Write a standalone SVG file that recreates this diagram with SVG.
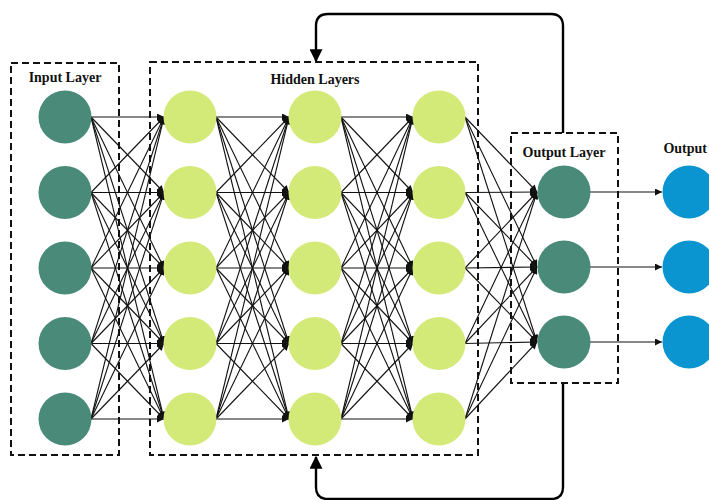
<svg xmlns="http://www.w3.org/2000/svg" width="709" height="500" viewBox="0 0 709 500">
<style>
.box{fill:none;stroke:#111;stroke-width:2;stroke-dasharray:7,4}
.lbl{font-family:"Liberation Serif","Times New Roman",serif;font-weight:bold;font-size:14px;fill:#111}
.in{fill:#4a8a78}
.hid{fill:#d3ea78}
.out{fill:#0a95d0}
.c{stroke:#111;stroke-width:1.1;fill:none;marker-end:url(#ah)}
.loop{stroke:#000;stroke-width:2.4;fill:none;marker-end:url(#big)}
</style>
<defs>
<marker id="ah" viewBox="0 0 10 10" refX="10" refY="5" markerWidth="8" markerHeight="7" markerUnits="userSpaceOnUse" orient="auto"><path d="M0,0L10,5L0,10z" fill="#111"/></marker>
<marker id="big" viewBox="0 0 10 10" refX="9" refY="5" markerWidth="13" markerHeight="13" markerUnits="userSpaceOnUse" orient="auto"><path d="M0,0L10,5L0,10z" fill="#000"/></marker>
</defs>
<rect x="0" y="0" width="709" height="500" fill="#fff"/>
<g id="connectors">
<g id="c-in-h1">
<path class="c" d="M91,117L164,117"/><path class="c" d="M91,117L164,192.5"/><path class="c" d="M91,117L164,268"/><path class="c" d="M91,117L164,343.5"/><path class="c" d="M91,117L164,419"/>
<path class="c" d="M91,192.5L164,117"/><path class="c" d="M91,192.5L164,192.5"/><path class="c" d="M91,192.5L164,268"/><path class="c" d="M91,192.5L164,343.5"/><path class="c" d="M91,192.5L164,419"/>
<path class="c" d="M91,268L164,117"/><path class="c" d="M91,268L164,192.5"/><path class="c" d="M91,268L164,268"/><path class="c" d="M91,268L164,343.5"/><path class="c" d="M91,268L164,419"/>
<path class="c" d="M91,343.5L164,117"/><path class="c" d="M91,343.5L164,192.5"/><path class="c" d="M91,343.5L164,268"/><path class="c" d="M91,343.5L164,343.5"/><path class="c" d="M91,343.5L164,419"/>
<path class="c" d="M91,419L164,117"/><path class="c" d="M91,419L164,192.5"/><path class="c" d="M91,419L164,268"/><path class="c" d="M91,419L164,343.5"/><path class="c" d="M91,419L164,419"/>
</g>
<g id="c-h1-h2">
<path class="c" d="M216,117L289,117"/><path class="c" d="M216,117L289,192.5"/><path class="c" d="M216,117L289,268"/><path class="c" d="M216,117L289,343.5"/><path class="c" d="M216,117L289,419"/>
<path class="c" d="M216,192.5L289,117"/><path class="c" d="M216,192.5L289,192.5"/><path class="c" d="M216,192.5L289,268"/><path class="c" d="M216,192.5L289,343.5"/><path class="c" d="M216,192.5L289,419"/>
<path class="c" d="M216,268L289,117"/><path class="c" d="M216,268L289,192.5"/><path class="c" d="M216,268L289,268"/><path class="c" d="M216,268L289,343.5"/><path class="c" d="M216,268L289,419"/>
<path class="c" d="M216,343.5L289,117"/><path class="c" d="M216,343.5L289,192.5"/><path class="c" d="M216,343.5L289,268"/><path class="c" d="M216,343.5L289,343.5"/><path class="c" d="M216,343.5L289,419"/>
<path class="c" d="M216,419L289,117"/><path class="c" d="M216,419L289,192.5"/><path class="c" d="M216,419L289,268"/><path class="c" d="M216,419L289,343.5"/><path class="c" d="M216,419L289,419"/>
</g>
<g id="c-h2-h3">
<path class="c" d="M341,117L413,117"/><path class="c" d="M341,117L413,192.5"/><path class="c" d="M341,117L413,268"/><path class="c" d="M341,117L413,343.5"/><path class="c" d="M341,117L413,419"/>
<path class="c" d="M341,192.5L413,117"/><path class="c" d="M341,192.5L413,192.5"/><path class="c" d="M341,192.5L413,268"/><path class="c" d="M341,192.5L413,343.5"/><path class="c" d="M341,192.5L413,419"/>
<path class="c" d="M341,268L413,117"/><path class="c" d="M341,268L413,192.5"/><path class="c" d="M341,268L413,268"/><path class="c" d="M341,268L413,343.5"/><path class="c" d="M341,268L413,419"/>
<path class="c" d="M341,343.5L413,117"/><path class="c" d="M341,343.5L413,192.5"/><path class="c" d="M341,343.5L413,268"/><path class="c" d="M341,343.5L413,343.5"/><path class="c" d="M341,343.5L413,419"/>
<path class="c" d="M341,419L413,117"/><path class="c" d="M341,419L413,192.5"/><path class="c" d="M341,419L413,268"/><path class="c" d="M341,419L413,343.5"/><path class="c" d="M341,419L413,419"/>
</g>
<g id="c-h3-out">
<path class="c" d="M465,117L537,192"/><path class="c" d="M465,117L537,267"/><path class="c" d="M465,117L537,342"/>
<path class="c" d="M465,192.5L537,192"/><path class="c" d="M465,192.5L537,267"/><path class="c" d="M465,192.5L537,342"/>
<path class="c" d="M465,268L537,192"/><path class="c" d="M465,268L537,267"/><path class="c" d="M465,268L537,342"/>
<path class="c" d="M465,343.5L537,192"/><path class="c" d="M465,343.5L537,267"/><path class="c" d="M465,343.5L537,342"/>
<path class="c" d="M465,419L537,192"/><path class="c" d="M465,419L537,267"/><path class="c" d="M465,419L537,342"/>
</g>
<g id="c-out-final">
<path class="c" d="M590,192L662,192"/><path class="c" d="M590,267L662,267"/><path class="c" d="M590,342L662,342"/>
</g>
<g id="loops">
<path class="loop" d="M563,133L563,26Q563,14 551,14L328,14Q316,14 316,26L316,61"/>
<path class="loop" d="M563,383L563,487Q563,499 551,499L328,499Q316,499 316,487L316,457"/>
</g>
</g>
<g id="input-layer">
<rect class="box" x="11" y="63" width="108" height="392"/>
<text class="lbl" x="65" y="82" text-anchor="middle">Input Layer</text>
<circle class="in" cx="65" cy="117" r="26.5"/><circle class="in" cx="65" cy="192.5" r="26.5"/><circle class="in" cx="65" cy="268" r="26.5"/><circle class="in" cx="65" cy="343.5" r="26.5"/><circle class="in" cx="65" cy="419" r="26.5"/>
</g>
<g id="hidden-layers">
<rect class="box" x="150" y="62" width="328" height="393"/>
<text class="lbl" x="315" y="84" text-anchor="middle">Hidden Layers</text>
<circle class="hid" cx="190" cy="117" r="26.5"/><circle class="hid" cx="190" cy="192.5" r="26.5"/><circle class="hid" cx="190" cy="268" r="26.5"/><circle class="hid" cx="190" cy="343.5" r="26.5"/><circle class="hid" cx="190" cy="419" r="26.5"/>
<circle class="hid" cx="315" cy="117" r="26.5"/><circle class="hid" cx="315" cy="192.5" r="26.5"/><circle class="hid" cx="315" cy="268" r="26.5"/><circle class="hid" cx="315" cy="343.5" r="26.5"/><circle class="hid" cx="315" cy="419" r="26.5"/>
<circle class="hid" cx="439" cy="117" r="26.5"/><circle class="hid" cx="439" cy="192.5" r="26.5"/><circle class="hid" cx="439" cy="268" r="26.5"/><circle class="hid" cx="439" cy="343.5" r="26.5"/><circle class="hid" cx="439" cy="419" r="26.5"/>
</g>
<g id="output-layer">
<rect class="box" x="511" y="133" width="107" height="250"/>
<text class="lbl" x="564" y="157" text-anchor="middle">Output Layer</text>
<circle class="in" cx="564" cy="192" r="26.5"/><circle class="in" cx="564" cy="267" r="26.5"/><circle class="in" cx="564" cy="342" r="26.5"/>
</g>
<g id="outputs">
<text class="lbl" x="707" y="153" text-anchor="end">Output</text>
<circle class="out" cx="689" cy="192" r="26.5"/><circle class="out" cx="689" cy="267" r="26.5"/><circle class="out" cx="689" cy="342" r="26.5"/>
</g>
</svg>
